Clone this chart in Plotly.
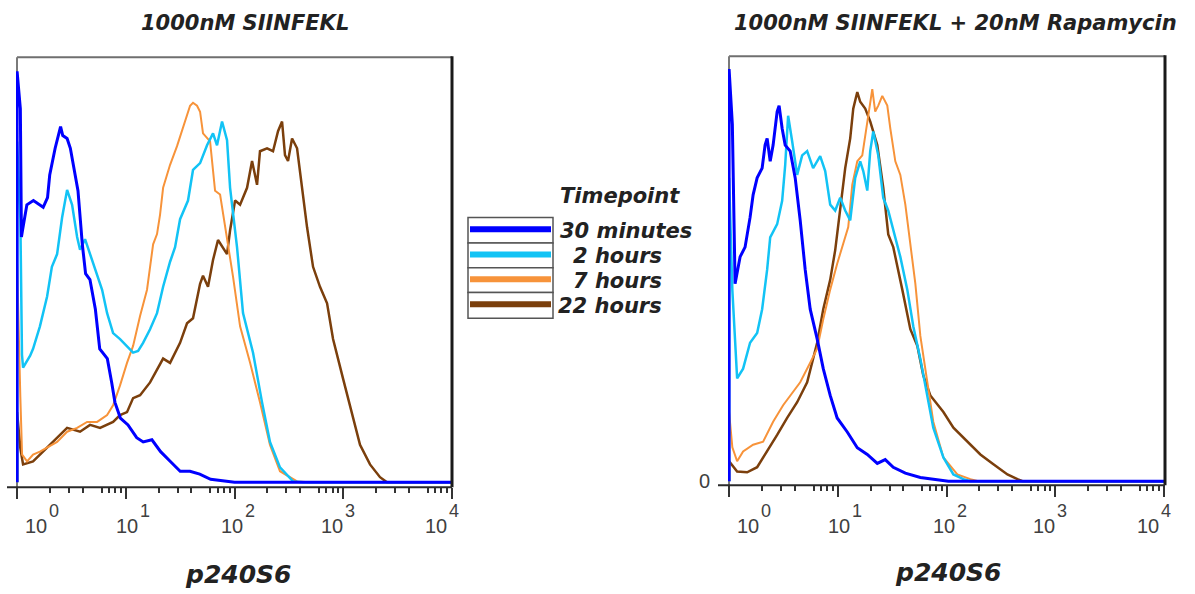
import numpy as np
import plotly.graph_objects as go

# ---------------------------------------------------------------------------
# Histogram data. x = log10(p240S6 intensity), axis spans 10^0 .. 10^4.
# y = events, on a 0-100 panel scale (0 = baseline, 100 = top of frame).
# ---------------------------------------------------------------------------
timepoints = ["30 minutes", "2 hours", "7 hours", "22 hours"]
line_colors = ["#0000ff", "#12c3f5", "#f7933a", "#7b3f0c"]
line_widths = [3, 2.5, 2, 2.5]

panel_titles = ["1000nM SIINFEKL", "1000nM SIINFEKL + 20nM Rapamycin"]
x_axis_title = "p240S6"
decades = [0, 1, 2, 3, 4]
decade_exponents = ["0", "1", "2", "3", "4"]

# Panel 1: 1000nM SIINFEKL
p1_30min_x = [0, 0, 0.03, 0.04, 0.05, 0.09, 0.15, 0.18, 0.24, 0.28, 0.30, 0.35, 0.40, 0.42, 0.46,
              0.49, 0.52, 0.56, 0.60, 0.63, 0.67, 0.72, 0.76, 0.83, 0.87, 0.90, 0.95, 1.02, 1.10,
              1.16, 1.24, 1.32, 1.41, 1.50, 1.59, 1.68, 1.78, 1.96, 2.00, 4.00]
p1_30min_y = [0, 96.7, 87.9, 57.7, 59.3, 65.3, 66.3, 65.8, 64.7, 67.0, 72.3, 78.6, 83.7, 81.6, 80.9,
              78.6, 74.0, 68.6, 56.0, 49.1, 47.7, 40.7, 31.4, 29.1, 23.5, 18.8, 15.1, 13.5, 10.5,
              9.5, 10.0, 7.2, 4.9, 2.6, 2.6, 1.9, 0.7, 0.2, 0, 0]

p1_2h_x = [0, 0, 0.03, 0.045, 0.055, 0.12, 0.147, 0.21, 0.276, 0.32, 0.368, 0.414, 0.46, 0.506,
           0.552, 0.579, 0.625, 0.671, 0.736, 0.782, 0.828, 0.883, 0.947, 1.011, 1.067, 1.113,
           1.159, 1.223, 1.287, 1.343, 1.407, 1.453, 1.499, 1.572, 1.618, 1.683, 1.747, 1.802,
           1.839, 1.885, 1.931, 1.959, 2.023, 2.078, 2.170, 2.253, 2.326, 2.418, 2.538, 2.63, 4.0]
p1_2h_y = [0, 80.2, 62.0, 30.0, 27.0, 29.8, 31.4, 36.7, 43.7, 50.7, 53.7, 62.3, 68.8, 65.3,
           57.7, 54.7, 57.2, 53.7, 48.4, 45.3, 39.8, 35.1, 33.7, 32.1, 30.5, 30.9,
           32.8, 36.0, 39.8, 46.0, 51.9, 55.3, 61.9, 66.3, 73.5, 75.1, 79.3, 82.1,
           79.3, 84.9, 80.5, 69.3, 55.3, 39.8, 30.5, 18.8, 9.5, 3.5, 0.2, 0, 0]

p1_7h_x = [0, 0, 0.03, 0.046, 0.092, 0.147, 0.21, 0.276, 0.368, 0.46, 0.552, 0.644, 0.736, 0.828,
           0.883, 0.947, 1.011, 1.067, 1.131, 1.195, 1.251, 1.287, 1.315, 1.343, 1.379, 1.407,
           1.471, 1.526, 1.591, 1.618, 1.655, 1.683, 1.710, 1.775, 1.821, 1.867, 1.931, 1.986,
           2.051, 2.143, 2.234, 2.326, 2.418, 2.575, 2.694, 4.0]
p1_7h_y = [0, 51.4, 20.0, 6.5, 4.9, 6.5, 7.2, 8.1, 9.5, 11.9, 12.8, 14.2, 14.2, 15.8,
           18.1, 22.8, 28.1, 32.1, 39.1, 45.3, 56.0, 58.4, 63.0, 69.3, 72.3, 74.7,
           79.1, 83.3, 88.6, 89.3, 88.6, 87.2, 82.1, 80.2, 68.6, 67.7, 57.7, 48.4,
           36.7, 28.1, 18.8, 8.8, 2.6, 0.2, 0, 0]

p1_22h_x = [0, 0, 0.03, 0.055, 0.147, 0.239, 0.331, 0.46, 0.579, 0.671, 0.763, 0.883, 0.947, 1.011,
            1.067, 1.131, 1.223, 1.343, 1.407, 1.499, 1.563, 1.618, 1.683, 1.710, 1.756, 1.802,
            1.848, 1.931, 1.959, 2.005, 2.051, 2.115, 2.161, 2.207, 2.234, 2.299, 2.354, 2.400,
            2.437, 2.464, 2.492, 2.529, 2.575, 2.602, 2.667, 2.722, 2.786, 2.851, 2.906, 2.998,
            3.090, 3.154, 3.246, 3.338, 3.402, 4.0]
p1_22h_y = [0, 16.5, 8.0, 4.2, 4.9, 7.2, 9.5, 12.8, 11.9, 13.5, 12.8, 14.2, 15.8, 16.5,
            19.8, 20.5, 23.5, 29.1, 28.1, 32.8, 37.4, 38.6, 46.7, 48.6, 46.0, 52.3,
            57.0, 53.7, 59.3, 66.3, 65.3, 69.3, 75.6, 70.0, 77.9, 78.6, 77.9, 82.6,
            84.9, 77.0, 75.6, 80.9, 78.6, 73.3, 60.0, 50.7, 46.0, 42.1, 33.7, 24.4,
            15.1, 8.8, 4.2, 1.2, 0, 0]

# Panel 2: 1000nM SIINFEKL + 20nM Rapamycin
p2_30min_x = [0, 0, 0.03, 0.055, 0.101, 0.147, 0.193, 0.221, 0.258, 0.304, 0.331, 0.350, 0.378,
              0.405, 0.442, 0.460, 0.488, 0.516, 0.562, 0.608, 0.654, 0.700, 0.746, 0.810, 0.866,
              0.930, 0.994, 1.087, 1.179, 1.271, 1.363, 1.436, 1.510, 1.621, 1.759, 1.943, 2.017, 4.0]
p2_30min_y = [0, 97.0, 84.0, 46.5, 52.8, 55.1, 62.1, 67.4, 71.4, 73.7, 79.1, 80.7, 75.3,
              79.1, 87.0, 88.4, 83.0, 79.1, 77.7, 71.4, 61.4, 49.8, 40.5, 33.5, 26.5,
              20.2, 14.9, 11.6, 7.9, 6.3, 4.2, 5.1, 3.3, 1.9, 0.9, 0.2, 0, 0]

p2_2h_x = [0, 0, 0.03, 0.074, 0.129, 0.193, 0.258, 0.304, 0.350, 0.378, 0.442, 0.488, 0.516, 0.543,
           0.580, 0.626, 0.672, 0.718, 0.773, 0.838, 0.884, 0.930, 0.976, 1.022, 1.068, 1.114,
           1.160, 1.206, 1.234, 1.271, 1.298, 1.326, 1.372, 1.418, 1.464, 1.510, 1.575, 1.639,
           1.694, 1.759, 1.823, 1.878, 1.971, 2.063, 2.155, 2.219, 4.0]
p2_2h_y = [0, 71.4, 45.0, 24.2, 26.5, 32.6, 34.9, 40.5, 49.8, 57.4, 60.5, 66.0, 74.4, 86.0,
           80.0, 72.1, 76.7, 77.7, 73.7, 76.5, 73.0, 65.1, 63.7, 66.7, 63.7, 61.4,
           71.4, 75.3, 73.0, 68.4, 77.7, 82.3, 76.7, 66.7, 63.7, 59.1, 52.8, 45.1,
           36.5, 28.8, 20.2, 12.6, 5.6, 1.6, 0.5, 0, 0]

p2_7h_x = [0, 0, 0.03, 0.074, 0.129, 0.221, 0.313, 0.405, 0.497, 0.562, 0.654, 0.746, 0.810, 0.866,
           0.930, 0.994, 1.050, 1.096, 1.133, 1.179, 1.225, 1.271, 1.298, 1.317, 1.344, 1.372,
           1.409, 1.455, 1.483, 1.529, 1.575, 1.621, 1.667, 1.713, 1.759, 1.823, 1.878, 1.971,
           2.099, 2.219, 2.293, 4.0]
p2_7h_y = [0, 16.3, 8.0, 4.7, 7.0, 8.6, 9.3, 14.0, 17.9, 20.2, 23.3, 27.9, 31.2, 38.1,
           45.1, 51.2, 55.8, 59.8, 69.8, 75.3, 76.7, 84.7, 90.0, 92.3, 87.0, 88.4,
           90.7, 88.4, 83.0, 75.3, 72.1, 65.1, 55.8, 46.5, 34.2, 23.3, 14.0, 5.6,
           1.6, 0.5, 0, 0]

p2_22h_x = [0, 0, 0.074, 0.166, 0.258, 0.350, 0.442, 0.534, 0.626, 0.718, 0.810, 0.866, 0.930,
            0.976, 1.022, 1.068, 1.114, 1.142, 1.179, 1.206, 1.252, 1.298, 1.363, 1.418, 1.464,
            1.510, 1.593, 1.667, 1.731, 1.786, 1.851, 1.924, 1.971, 2.063, 2.192, 2.311, 2.431,
            2.560, 2.652, 2.698, 4.0]
p2_22h_y = [0, 4.7, 2.3, 2.1, 3.3, 7.0, 10.9, 14.9, 18.6, 23.3, 32.6, 40.5, 47.4,
            54.4, 63.7, 73.7, 80.7, 87.7, 91.6, 89.3, 87.7, 84.7, 79.1, 69.1, 58.1,
            55.1, 45.1, 35.8, 31.9, 24.9, 20.2, 17.9, 16.3, 12.6, 9.3, 6.3, 4.0,
            1.6, 0.5, 0, 0]

panel1 = [(p1_30min_x, p1_30min_y), (p1_2h_x, p1_2h_y), (p1_7h_x, p1_7h_y), (p1_22h_x, p1_22h_y)]
panel2 = [(p2_30min_x, p2_30min_y), (p2_2h_x, p2_2h_y), (p2_7h_x, p2_7h_y), (p2_22h_x, p2_22h_y)]

# ---------------------------------------------------------------------------
W, H = 1195, 594
TEXT_FONT = "DejaVu Sans"
TICK_FONT = "Liberation Sans"
INK = "#222222"
TICK_INK = "#404040"


def fx(p):
    return p / W


def fy(p):
    return 1 - p / H


fig = go.Figure()

# later timepoints underneath, 30 minutes on top
for panel, (xa, ya) in ((panel1, ("x", "y")), (panel2, ("x2", "y2"))):
    for i in (3, 2, 1, 0):
        xs, ys = panel[i]
        fig.add_trace(go.Scatter(
            x=xs, y=ys, mode="lines", name=timepoints[i],
            line=dict(color=line_colors[i], width=line_widths[i]),
            xaxis=xa, yaxis=ya, hoverinfo="skip", showlegend=False,
        ))

# log-style decade ticks on a log10 value axis
minor_vals = [d + np.log10(k) for d in range(4) for k in (2, 3, 4, 6, 7, 8, 9)]
five_vals = [d + np.log10(5) for d in range(4)]

frames = [
    # left, right, top, bottom, axis-line start (px)
    dict(l=17, r=452, t=58, b=493, a=7),
    dict(l=729, r=1165, t=57, b=491, a=718),
]

x_common = dict(
    range=[-0.01, 4.0], showgrid=False, zeroline=False, showline=False,
    tickmode="array", tickvals=decades, ticks="outside", ticklen=11, tickwidth=2,
    tickcolor="#333333", showticklabels=False, fixedrange=True,
    minor=dict(tickmode="array", tickvals=minor_vals, ticks="outside", ticklen=5,
               tickwidth=1.5, tickcolor="#333333", showgrid=False),
)
five_common = dict(
    range=[-0.01, 4.0], showgrid=False, zeroline=False, showline=False,
    tickmode="array", tickvals=five_vals, ticks="outside", ticklen=8, tickwidth=1.5,
    tickcolor="#333333", showticklabels=False, fixedrange=True,
)

fig.update_layout(
    width=W, height=H, margin=dict(l=0, r=0, t=0, b=0),
    paper_bgcolor="white", plot_bgcolor="white", showlegend=False,
    xaxis=dict(domain=[fx(16), fx(452)], anchor="y", **x_common),
    yaxis=dict(domain=[fy(493), fy(58)], anchor="x", range=[-1.16, 100],
               showgrid=False, zeroline=False, showline=False, showticklabels=False,
               ticks="", fixedrange=True),
    xaxis2=dict(domain=[fx(728), fx(1164)], anchor="y2", **x_common),
    yaxis2=dict(domain=[fy(491), fy(57)], anchor="x2", range=[-0.93, 100],
                showgrid=False, zeroline=False, showline=False,
                tickmode="array", tickvals=[0], ticktext=["0"], ticks="",
                ticklabelstandoff=17,
                tickfont=dict(family=TICK_FONT, size=20, color=TICK_INK), fixedrange=True),
    xaxis3=dict(overlaying="x", anchor="y", **five_common),
    xaxis4=dict(overlaying="x2", anchor="y2", **five_common),
)

shapes = []
for fr in frames:
    # frame: light top/left edge, heavy right edge, axis line along the bottom
    shapes.append(dict(type="line", xref="paper", yref="paper", layer="below",
                       x0=fx(fr["l"]), x1=fx(fr["r"]), y0=fy(fr["t"]), y1=fy(fr["t"]),
                       line=dict(color="#6f6f6f", width=2)))
    shapes.append(dict(type="line", xref="paper", yref="paper", layer="below",
                       x0=fx(fr["l"]), x1=fx(fr["l"]), y0=fy(fr["t"]), y1=fy(fr["b"]),
                       line=dict(color="#7a7a7a", width=2)))
    shapes.append(dict(type="line", xref="paper", yref="paper", layer="above",
                       x0=fx(fr["r"]), x1=fx(fr["r"]), y0=fy(fr["t"] - 1), y1=fy(fr["b"]),
                       line=dict(color="#1a1a1a", width=3)))
    shapes.append(dict(type="line", xref="paper", yref="paper", layer="above",
                       x0=fx(fr["a"]), x1=fx(fr["r"]), y0=fy(fr["b"]), y1=fy(fr["b"]),
                       line=dict(color="#2a2a2a", width=2)))

# legend cells with colour swatches
legend_rows = [(220, 246), (246, 271), (271, 296), (296, 322)]
for i, (top, bot) in enumerate(legend_rows):
    shapes.append(dict(type="rect", xref="paper", yref="paper",
                       x0=fx(468), x1=fx(553), y0=fy(bot), y1=fy(top),
                       fillcolor="white", line=dict(color="#555555", width=1.5)))
    mid = (top + bot) / 2 - 1
    shapes.append(dict(type="line", xref="paper", yref="paper",
                       x0=fx(470), x1=fx(551), y0=fy(mid), y1=fy(mid),
                       line=dict(color=line_colors[i], width=6)))
fig.update_layout(shapes=shapes)


def label(text, x, y, font, xanchor="center", xref="paper", xshift=0):
    return dict(text=text, x=x, y=y, xref=xref, yref="paper", xanchor=xanchor,
                yanchor="middle", xshift=xshift, showarrow=False, font=font)


ann = []
bi = dict(family=TEXT_FONT, size=21, color=INK)
ann.append(label("<b><i>%s</i></b>" % panel_titles[0], fx(244.5), fy(23), bi))
ann.append(label("<b><i>%s</i></b>" % panel_titles[1], fx(955.5), fy(23), bi))
axt = dict(family=TEXT_FONT, size=25, color=INK)
ann.append(label("<b><i>%s</i></b>" % x_axis_title, fx(238), fy(581), axt))
ann.append(label("<b><i>%s</i></b>" % x_axis_title, fx(948), fy(579), axt))

ann.append(label("<b><i>Timepoint</i></b>", fx(558), fy(198), bi, xanchor="left"))
legend_text_left = [558, 571, 571, 556]
for i, (top, bot) in enumerate(legend_rows):
    ann.append(label("<b><i>%s</i></b>" % timepoints[i], fx(legend_text_left[i]),
                     fy((top + bot) / 2 + 1), bi, xanchor="left"))

# decade labels 10^n, nudged inward at both ends
label_shift = [19, 1, -3, -11, -16]
base_font = dict(family=TICK_FONT, size=20, color=TICK_INK)
exp_font = dict(family=TICK_FONT, size=18, color=TICK_INK)
for xa in ("x", "x2"):
    for d, e, s in zip(decades, decade_exponents, label_shift):
        ann.append(label("10", d, fy(532), base_font, xref=xa, xshift=s))
        ann.append(label(e, d, fy(517), exp_font, xref=xa, xshift=s + 18))
fig.update_layout(annotations=ann)

fig.write_html("out.html")
